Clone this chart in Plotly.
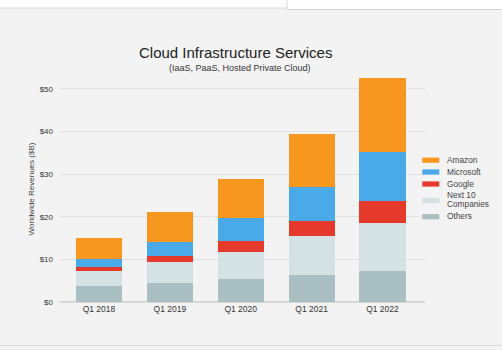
import plotly.graph_objects as go

categories = ["Q1 2018", "Q1 2019", "Q1 2020", "Q1 2021", "Q1 2022"]
others = [3.7, 4.5, 5.3, 6.4, 7.2]
next10 = [3.5, 4.8, 6.5, 9.1, 11.4]
google = [1.0, 1.5, 2.5, 3.5, 5.1]
microsoft = [1.9, 3.2, 5.3, 7.9, 11.5]
amazon = [4.9, 7.2, 9.2, 12.5, 17.3]

series = [
    ("Others", others, "#a9bfc1"),
    ("Next 10<br>Companies", next10, "#d4e2e3"),
    ("Google", google, "#e53a2b"),
    ("Microsoft", microsoft, "#4aa9e9"),
    ("Amazon", amazon, "#f7971f"),
]

W, H = 502, 350
L, R, T, B = 60, 77, 76, 48
PW, PH = W - L - R, H - T - B


def px(x):
    return (x - L) / PW


def py(y):
    return (H - B - y) / PH


fig = go.Figure()
for name, vals, col in series:
    fig.add_trace(go.Bar(x=categories, y=vals, name=name, marker_color=col,
                         marker_line_width=0, width=0.65, showlegend=False))

fig.update_layout(
    width=W, height=H,
    barmode="stack",
    paper_bgcolor="#f3f3f3", plot_bgcolor="#f3f3f3",
    margin=dict(l=L, r=R, t=T, b=B, autoexpand=False),
    font=dict(family="Liberation Sans, Arial, sans-serif", color="#333", size=8),
    showlegend=False,
)
fig.update_xaxes(range=[-0.55, 4.6], showgrid=False, ticks="", showline=False,
                 tickfont=dict(size=8.5, color="#333"), fixedrange=True)
fig.update_yaxes(range=[0, 53], tickvals=[0, 10, 20, 30, 40, 50],
                 ticktext=["$0", "$10", "$20", "$30", "$40", "$50"],
                 gridcolor="#e2e2e2", gridwidth=1, zeroline=True, zerolinecolor="#d6d6d6",
                 tickfont=dict(size=8, color="#333"), ticks="", ticklabelstandoff=6,
                 title=dict(text="Worldwide Revenues ($B)", font=dict(size=8, color="#444"), standoff=3))

# manual legend (top item first)
legend_swatch_y = [160.2, 172, 184, 200.5, 216.7]
legend_text_y = [160, 172.3, 183.7, 194.7, 216.1]
for (name, vals, col), sy, ty in zip(series[::-1], legend_swatch_y, legend_text_y):
    fig.add_shape(type="rect", xref="paper", yref="paper",
                  x0=px(422.3), x1=px(439.3), y0=py(sy - 2.6), y1=py(sy + 2.6),
                  fillcolor=col, line_width=0)
    for k, line in enumerate(name.split("<br>")):
        fig.add_annotation(text=line, xref="paper", yref="paper", x=px(444.8), y=py(ty + 9.4 * k),
                           xanchor="left", yanchor="middle", showarrow=False, align="left",
                           font=dict(size=8.3, color="#444"))

fig.add_annotation(text="Cloud Infrastructure Services", xref="paper", yref="paper",
                   x=px(235), y=py(52), xanchor="center", yanchor="middle", showarrow=False,
                   font=dict(size=15, color="#222"))
fig.add_annotation(text="(IaaS, PaaS, Hosted Private Cloud)", xref="paper", yref="paper",
                   x=px(240), y=py(68), xanchor="center", yanchor="middle", showarrow=False,
                   font=dict(size=9, color="#333"))

# screenshot frame artifacts
fig.add_shape(type="rect", xref="paper", yref="paper", x0=px(0), x1=px(502),
              y0=py(8), y1=py(0), fillcolor="#ffffff", line_width=0, layer="below")
fig.add_shape(type="line", xref="paper", yref="paper", x0=px(0), x1=px(287),
              y0=py(8), y1=py(8), line=dict(color="#d8d8d8", width=1))
fig.add_shape(type="rect", xref="paper", yref="paper", x0=px(287), x1=px(504),
              y0=py(9.5), y1=py(-3), fillcolor="#ffffff",
              line=dict(color="#d6d6d6", width=1))
fig.add_shape(type="line", xref="paper", yref="paper", x0=px(0), x1=px(502),
              y0=py(345.5), y1=py(345.5), line=dict(color="#dcdcdc", width=1))

fig.write_html("out.html")
